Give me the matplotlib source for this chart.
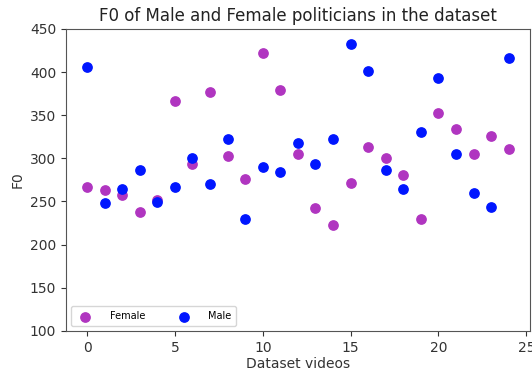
import matplotlib
matplotlib.use("Agg")
import matplotlib.pyplot as plt
import numpy as np

videos = list(range(25))
female_f0 = [267, 263, 257, 238, 252, 366, 294, 377, 303, 276, 422, 379, 305, 243, 223,
             271, 313, 300, 281, 230, 353, 334, 305, 326, 311]
male_f0 = [406, 248, 265, 286, 249, 267, 300, 270, 323, 230, 290, 284, 318, 294, 323,
           433, 401, 286, 265, 330, 393, 305, 260, 244, 416]

fig = plt.figure(figsize=(5.32, 3.76), dpi=100)
ax = fig.add_axes([0.124, 0.12, 0.872, 0.803])

ax.scatter(videos, female_f0, c='#b035c0', s=45, label='Female', zorder=3)
ax.scatter(videos, male_f0, c='#0016ff', s=45, label='Male', zorder=3)

ax.set_ylim(100, 450)
ax.set_xticks([0, 5, 10, 15, 20, 25])
ax.set_title('F0 of Male and Female politicians in the dataset', fontsize=12, color='#222222')
ax.set_xlabel('Dataset videos', fontsize=10, color='#333333', labelpad=2)
ax.set_ylabel('F0', fontsize=10, color='#333333')
ax.tick_params(labelsize=10, colors='#333333')
for sp in ax.spines.values():
    sp.set_color('#555555')
ax.legend(loc='lower left', ncol=2, fontsize=7, columnspacing=3.0, handletextpad=1.5,
          borderpad=0.5)

fig.savefig('out.png', dpi=100)
